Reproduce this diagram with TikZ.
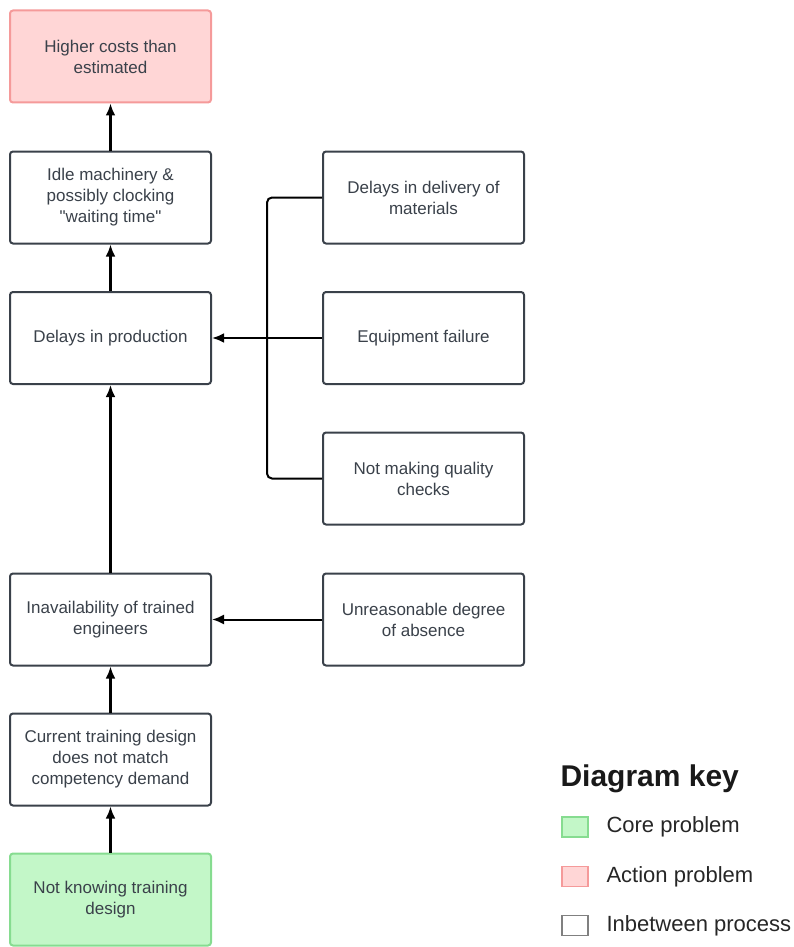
\documentclass[tikz,border=0pt]{standalone}
\usepackage{fontspec}
\setmainfont{Liberation Sans}
\usepackage{tikz}
\usetikzlibrary{calc}
\usetikzlibrary{arrows.meta}
\definecolor{txtgray}{HTML}{3A414A}
\definecolor{corefill}{HTML}{C3F7C8}
\definecolor{coreline}{HTML}{86DC90}
\definecolor{actfill}{HTML}{FFD6D6}
\definecolor{actline}{HTML}{F59A9A}
\tikzset{
  box/.style={draw=txtgray,line width=2pt,rounded corners=3pt,fill=white,
    minimum width=201pt,minimum height=92pt,align=center,text=txtgray,
    font=\fontsize{17}{21}\selectfont},
  core/.style={box,draw=coreline,fill=corefill},
  action/.style={box,draw=actline,fill=actfill},
  arr/.style={line width=2.5pt,-{Latex[length=12pt,width=10pt]}},
  keybox/.style={draw,line width=1.5pt,minimum width=26pt,minimum height=20pt,inner sep=0pt},
  keytxt/.style={anchor=west,text=black!85,font=\fontsize{22}{26}\selectfont}
}

\begin{document}
\begin{tikzpicture}[x=1pt,y=-1pt]
        \useasboundingbox (0,0) rectangle (793,947);
        \node[action] (cost) at (110.5,56.5) {Higher costs than\\estimated};
        \node[box] (idle) at (110.5,197.5) {Idle machinery \&\\possibly clocking\\\textquotedbl waiting time\textquotedbl};
        \node[box] (prod) at (110.5,338) {Delays in production};
        \node[box] (engs) at (110.5,619.5) {Inavailability of trained\\engineers};
        \node[box] (train) at (110.5,759.5) {Current training design\\does not match\\competency demand};
        \node[core] (core) at (110.5,899.5) {Not knowing training\\design};
        \node[box] (deliv) at (423.5,197.5) {Delays in delivery of\\materials};
        \node[box] (fail) at (423.5,338) {Equipment failure};
        \node[box] (check) at (423.5,478.5) {Not making quality\\checks};
        \node[box] (absent) at (423.5,619.5) {Unreasonable degree\\of absence};
        \coordinate (jn) at ($(prod.east)!0.5!(fail.west)$);

        \draw[arr] (core) -- (train);
        \draw[arr] (train) -- (engs);
        \draw[arr] (engs) -- (prod);
        \draw[arr] (prod) -- (idle);
        \draw[arr] (idle) -- (cost);
        \draw[line width=2pt,rounded corners=5pt] (deliv.west) -| (jn) |- (check.west);
        \draw[line width=1.5pt] (fail.west) -- (jn);
        \draw[arr] (jn) -- (prod.east);
        \draw[arr,line width=2pt] (absent) -- (engs);

        % diagram key
        \node[anchor=west,font=\fontsize{30}{34}\bfseries\selectfont,text=black!90] (keyhead) at (557,779) {Diagram key};
        \node[keybox,draw=coreline,fill=corefill] (kcore) at (575,827) {};
        \node[keybox,draw=actline,fill=actfill] (kact) at (575,876.5) {};
        \node[keybox,draw=black!50,fill=white] (kmid) at (575,925.5) {};
        \node[keytxt] at (603,827) {Core problem};
        \node[keytxt] at (603,876.5) {Action problem};
        \node[keytxt] at (603,925.5) {Inbetween process};
\end{tikzpicture}
\end{document}
